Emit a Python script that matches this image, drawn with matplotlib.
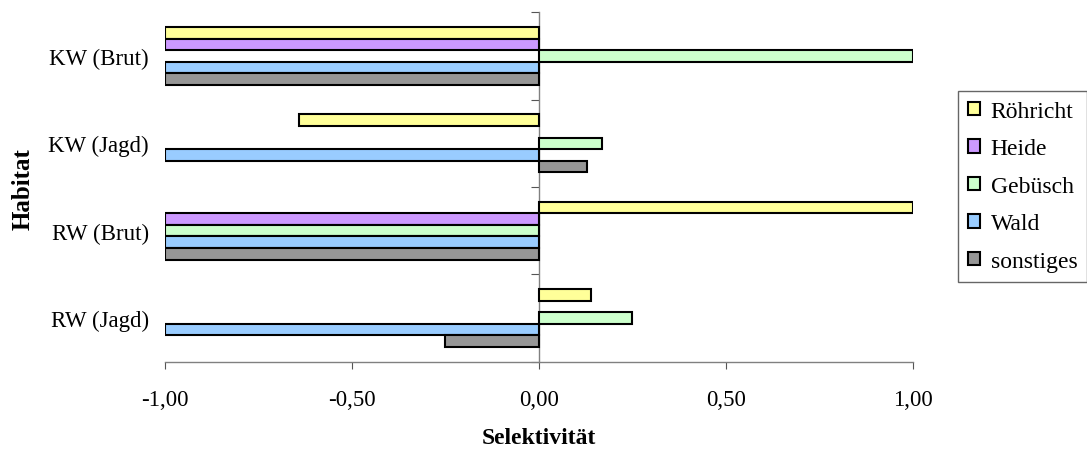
import numpy as np
import matplotlib
matplotlib.use("Agg")
import matplotlib.pyplot as plt
from matplotlib.ticker import FixedLocator

plt.rcParams['font.family'] = ['Liberation Serif', 'DejaVu Serif']

# data (bottom to top as drawn)
categories = ['RW (Jagd)', 'RW (Brut)', 'KW (Jagd)', 'KW (Brut)']
series = ['Röhricht', 'Heide', 'Gebüsch', 'Wald', 'sonstiges']
roehricht = [0.14, 1.00, -0.64, -1.00]
heide = [np.nan, -1.00, np.nan, -1.00]
gebuesch = [0.25, -1.00, 0.17, 1.00]
wald = [-1.00, -1.00, -1.00, -1.00]
sonstiges = [-0.25, -1.00, 0.13, -1.00]
values = [roehricht, heide, gebuesch, wald, sonstiges]
colors = ['#FFFF99', '#CC99FF', '#CCFFCC', '#99CCFF', '#969696']
xticks = [-1.0, -0.5, 0.0, 0.5, 1.0]

fig = plt.figure(figsize=(10.87, 4.52), dpi=100)
ax = fig.add_axes([0.1515, 0.1976, 0.688, 0.773])

h = 0.1325
y = np.arange(len(categories))
for i, (name, vals, c) in enumerate(zip(series, values, colors)):
    off = (2 - i) * h
    ax.barh(y + off, vals, height=h, color=c, edgecolor='black',
            linewidth=1.5, label=name, zorder=3)

ax.set_xlim(-1, 1)
ax.set_ylim(-0.5, len(categories) - 0.5)

# x axis
ax.set_xticks(xticks)
ax.set_xticklabels(['{:.2f}'.format(v).replace('.', ',') for v in xticks])
ax.tick_params(axis='x', direction='out', length=5, width=0.8,
               color='#555555', labelsize=16.5, pad=15)
ax.spines['bottom'].set_color('#808080')
ax.spines['bottom'].set_linewidth(1.0)

# y axis: labels at the left, spine with ticks at zero
ax.spines['top'].set_visible(False)
ax.spines['left'].set_visible(False)
ax.spines['right'].set_position(('data', 0))
ax.spines['right'].set_color('#808080')
ax.spines['right'].set_linewidth(1.0)
ax.set_yticks(y)
ax.set_yticklabels(categories)
ax.yaxis.set_minor_locator(FixedLocator(np.arange(-0.5, len(categories), 1.0)))
ax.tick_params(axis='y', which='major', left=False, right=False,
               labelleft=True, labelsize=16.5, pad=8)
ax.tick_params(axis='y', which='minor', left=False, right=True,
               direction='in', length=6, width=0.8, color='#555555')

ax.set_xlabel('Selektivität', fontsize=17, fontweight='bold', labelpad=12)
fig.text(23 / 1087, 0.582, 'Habitat', rotation=90, ha='center', va='center',
         fontsize=18, fontweight='bold')

leg = fig.legend(loc='upper left', bbox_to_anchor=(0.8816, 0.797),
                 bbox_transform=fig.transFigure, fontsize=17, frameon=True,
                 fancybox=False, borderaxespad=0, borderpad=0.42,
                 handlelength=0.5, handleheight=0.5, handletextpad=0.45,
                 labelspacing=0.7)
leg.get_frame().set_edgecolor('#404040')
leg.get_frame().set_linewidth(1.0)

plt.savefig('out.png', dpi=100)
